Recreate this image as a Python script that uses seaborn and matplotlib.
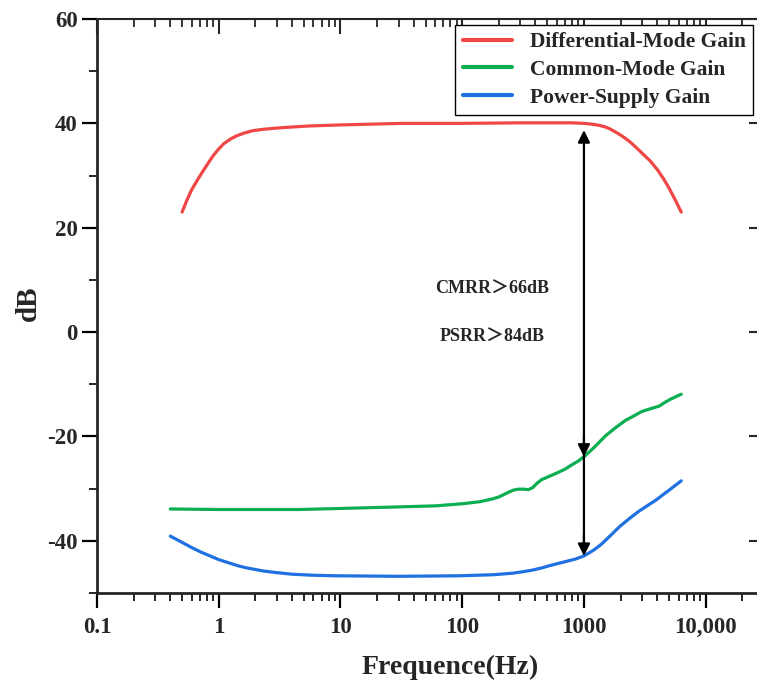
import numpy as np
import pandas as pd
import matplotlib
matplotlib.use("Agg")
import matplotlib.pyplot as plt
import matplotlib.ticker as mticker
import seaborn as sns

# Differential-mode gain (Hz, dB)
dm_freq = [0.5, 0.55, 0.6, 0.67, 0.74, 0.82, 0.9, 1.0, 1.1, 1.25, 1.4, 1.6, 1.9,
           2.4, 3.0, 4, 5.5, 10, 32, 100, 300, 800, 1000, 1100, 1200, 1350, 1500,
           1650, 1800, 2050, 2350, 2650, 3000, 3500, 4050, 4500, 5000, 5600, 6300]
dm_gain = [23.0, 25.4, 27.3, 29.2, 30.8, 32.4, 33.8, 35.1, 36.1, 37.0, 37.6, 38.1,
           38.6, 38.9, 39.1, 39.3, 39.5, 39.7, 40.0, 40.0, 40.1, 40.1, 40.0, 39.9,
           39.8, 39.6, 39.3, 38.9, 38.4, 37.6, 36.6, 35.5, 34.3, 32.8, 31.0, 29.4,
           27.6, 25.4, 23.0]

# Common-mode gain
cm_freq = [0.4, 1, 4.6, 10, 30, 60, 100, 140, 175, 200, 230, 262, 290, 320, 350,
           380, 410, 447, 500, 600, 695, 800, 900, 1010, 1200, 1500, 1800, 2200,
           2600, 3000, 3500, 4140, 4600, 5200, 6300]
cm_gain = [-33.9, -34.0, -34.0, -33.8, -33.5, -33.3, -32.9, -32.5, -32.0, -31.6,
           -30.9, -30.3, -30.1, -30.1, -30.2, -29.8, -29.0, -28.3, -27.8, -27.0,
           -26.3, -25.4, -24.7, -23.8, -22.2, -19.9, -18.4, -16.9, -16.0, -15.2,
           -14.7, -14.2, -13.5, -12.8, -11.9]

# Power-supply gain
ps_freq = [0.4, 0.5, 0.6, 0.72, 0.85, 1.0, 1.2, 1.45, 1.7, 2.0, 2.35, 3, 4, 6, 9,
           30, 95, 180, 262, 320, 380, 450, 515, 600, 700, 850, 1000, 1200, 1400,
           1700, 1980, 2400, 2800, 3300, 3900, 4500, 5200, 6300]
ps_gain = [-39.1, -40.3, -41.3, -42.2, -42.9, -43.6, -44.2, -44.8, -45.2, -45.5,
           -45.8, -46.1, -46.4, -46.6, -46.7, -46.8, -46.7, -46.5, -46.2, -45.9,
           -45.6, -45.2, -44.8, -44.4, -44.0, -43.5, -42.9, -41.8, -40.6, -38.7,
           -37.2, -35.6, -34.4, -33.3, -32.2, -31.1, -30.0, -28.5]

names = ["Differential-Mode Gain", "Common-Mode Gain", "Power-Supply Gain"]
colors = ["#f04646", "#0bae50", "#1f70e0"]

x_ticks = [0.1, 1, 10, 100, 1000, 10000]
x_labels = ["0.1", "1", "10", "100", "1000", "10,000"]
y_ticks = [-40, -20, 0, 20, 40, 60]

marker_freq = 1000
notes = ["CMRR\uff1e66dB", "PSRR\uff1e84dB"]


def main():
    sns.set_style("ticks")
    plt.rcParams["font.family"] = ["Liberation Serif", "Noto Sans CJK SC"]
    plt.rcParams["font.weight"] = "bold"
    plt.rcParams["axes.unicode_minus"] = False

    df = pd.concat([
        pd.DataFrame({"freq": dm_freq, "gain": dm_gain, "curve": names[0]}),
        pd.DataFrame({"freq": cm_freq, "gain": cm_gain, "curve": names[1]}),
        pd.DataFrame({"freq": ps_freq, "gain": ps_gain, "curve": names[2]}),
    ], ignore_index=True)

    fig = plt.figure(figsize=(7.57, 6.86), dpi=100)
    ax = fig.add_axes([97 / 757, 93 / 686, 660 / 757, 574 / 686])
    ax.set_xscale("log")
    sns.lineplot(data=df, x="freq", y="gain", hue="curve", hue_order=names,
                 palette=dict(zip(names, colors)), estimator=None, sort=False,
                 lw=2.3, legend=False, ax=ax)

    xlim = (0.1, 26400)
    ylim = (-50, 60)
    ax.set_xlim(xlim)
    ax.set_ylim(ylim)

    ax.xaxis.set_major_locator(mticker.FixedLocator(x_ticks))
    ax.xaxis.set_major_formatter(mticker.FixedFormatter(x_labels))
    ax.xaxis.set_minor_locator(mticker.LogLocator(base=10, subs=np.arange(2, 10)))
    ax.xaxis.set_minor_formatter(mticker.NullFormatter())
    ax.yaxis.set_major_locator(mticker.FixedLocator(y_ticks))
    ax.yaxis.set_minor_locator(mticker.AutoMinorLocator(2))

    ax.tick_params(which="major", direction="out", length=11, width=1.6,
                   labelsize=16.5, pad=3, color="black")
    ax.tick_params(which="minor", direction="out", length=6, width=1.4)
    ax.tick_params(axis="x", which="major", pad=6)
    for lab in ax.get_xticklabels() + ax.get_yticklabels():
        lab.set_fontweight("bold")

    for side in ["left", "bottom"]:
        ax.spines[side].set_linewidth(2.0)
    ax.spines["top"].set_linewidth(1.5)
    ax.spines["right"].set_visible(False)

    ax.set_xlabel("Frequence(Hz)", fontsize=20, fontweight="bold")
    ax.set_ylabel("dB", fontsize=21, fontweight="bold")
    ax.xaxis.set_label_coords(0.535, -0.108)
    ax.yaxis.set_label_coords(-0.083, 0.505)

    # top ticks (inward)
    axt = ax.twiny()
    axt.set_xscale("log")
    axt.set_xlim(xlim)
    axt.xaxis.set_major_locator(mticker.FixedLocator(x_ticks))
    axt.xaxis.set_minor_locator(mticker.LogLocator(base=10, subs=np.arange(2, 10)))
    axt.xaxis.set_major_formatter(mticker.NullFormatter())
    axt.xaxis.set_minor_formatter(mticker.NullFormatter())
    axt.tick_params(which="major", direction="in", length=11, width=1.5)
    axt.tick_params(which="minor", direction="in", length=6, width=1.3)
    for s in axt.spines.values():
        s.set_visible(False)

    # right ticks (inward)
    axr = ax.twinx()
    axr.set_ylim(ylim)
    axr.yaxis.set_major_locator(mticker.FixedLocator(y_ticks))
    axr.yaxis.set_major_formatter(mticker.NullFormatter())
    axr.tick_params(which="major", direction="in", length=6, width=1.5)
    for s in axr.spines.values():
        s.set_visible(False)

    # arrows at 1 kHz
    lf = np.log10(marker_freq)
    red_at = np.interp(lf, np.log10(dm_freq), dm_gain)
    green_at = np.interp(lf, np.log10(cm_freq), cm_gain)
    blue_at = np.interp(lf, np.log10(ps_freq), ps_gain)
    arrow = dict(arrowstyle="-|>", color="black", lw=1.6, mutation_scale=18,
                 shrinkA=0, shrinkB=0)
    ax.annotate("", xy=(marker_freq, red_at - 1.3), xytext=(marker_freq, blue_at + 0.5),
                arrowprops=arrow)
    ax.annotate("", xy=(marker_freq, green_at), xytext=(marker_freq, green_at + 4),
                arrowprops=arrow)
    ax.annotate("", xy=(marker_freq, blue_at), xytext=(marker_freq, blue_at + 4),
                arrowprops=arrow)

    ax.text(175, 8.2, notes[0], ha="center", va="center", fontsize=13,
            fontweight="bold")
    ax.text(175, -1.0, notes[1], ha="center", va="center", fontsize=13,
            fontweight="bold")

    leg = axr.legend(ax.lines[:3], names, loc="upper right",
                     bbox_to_anchor=(0.994, 0.99), borderaxespad=0,
                     fancybox=False, edgecolor="black", framealpha=1,
                     fontsize=15.5, handlelength=2.3, handletextpad=0.8,
                     labelspacing=0.35, borderpad=0.35)
    leg.get_frame().set_linewidth(1.0)
    for t in leg.get_texts():
        t.set_fontweight("bold")
    for h in leg.get_lines():
        h.set_linewidth(3)

    fig.savefig("out.png", dpi=100)
    plt.close(fig)


if __name__ == "__main__":
    main()
